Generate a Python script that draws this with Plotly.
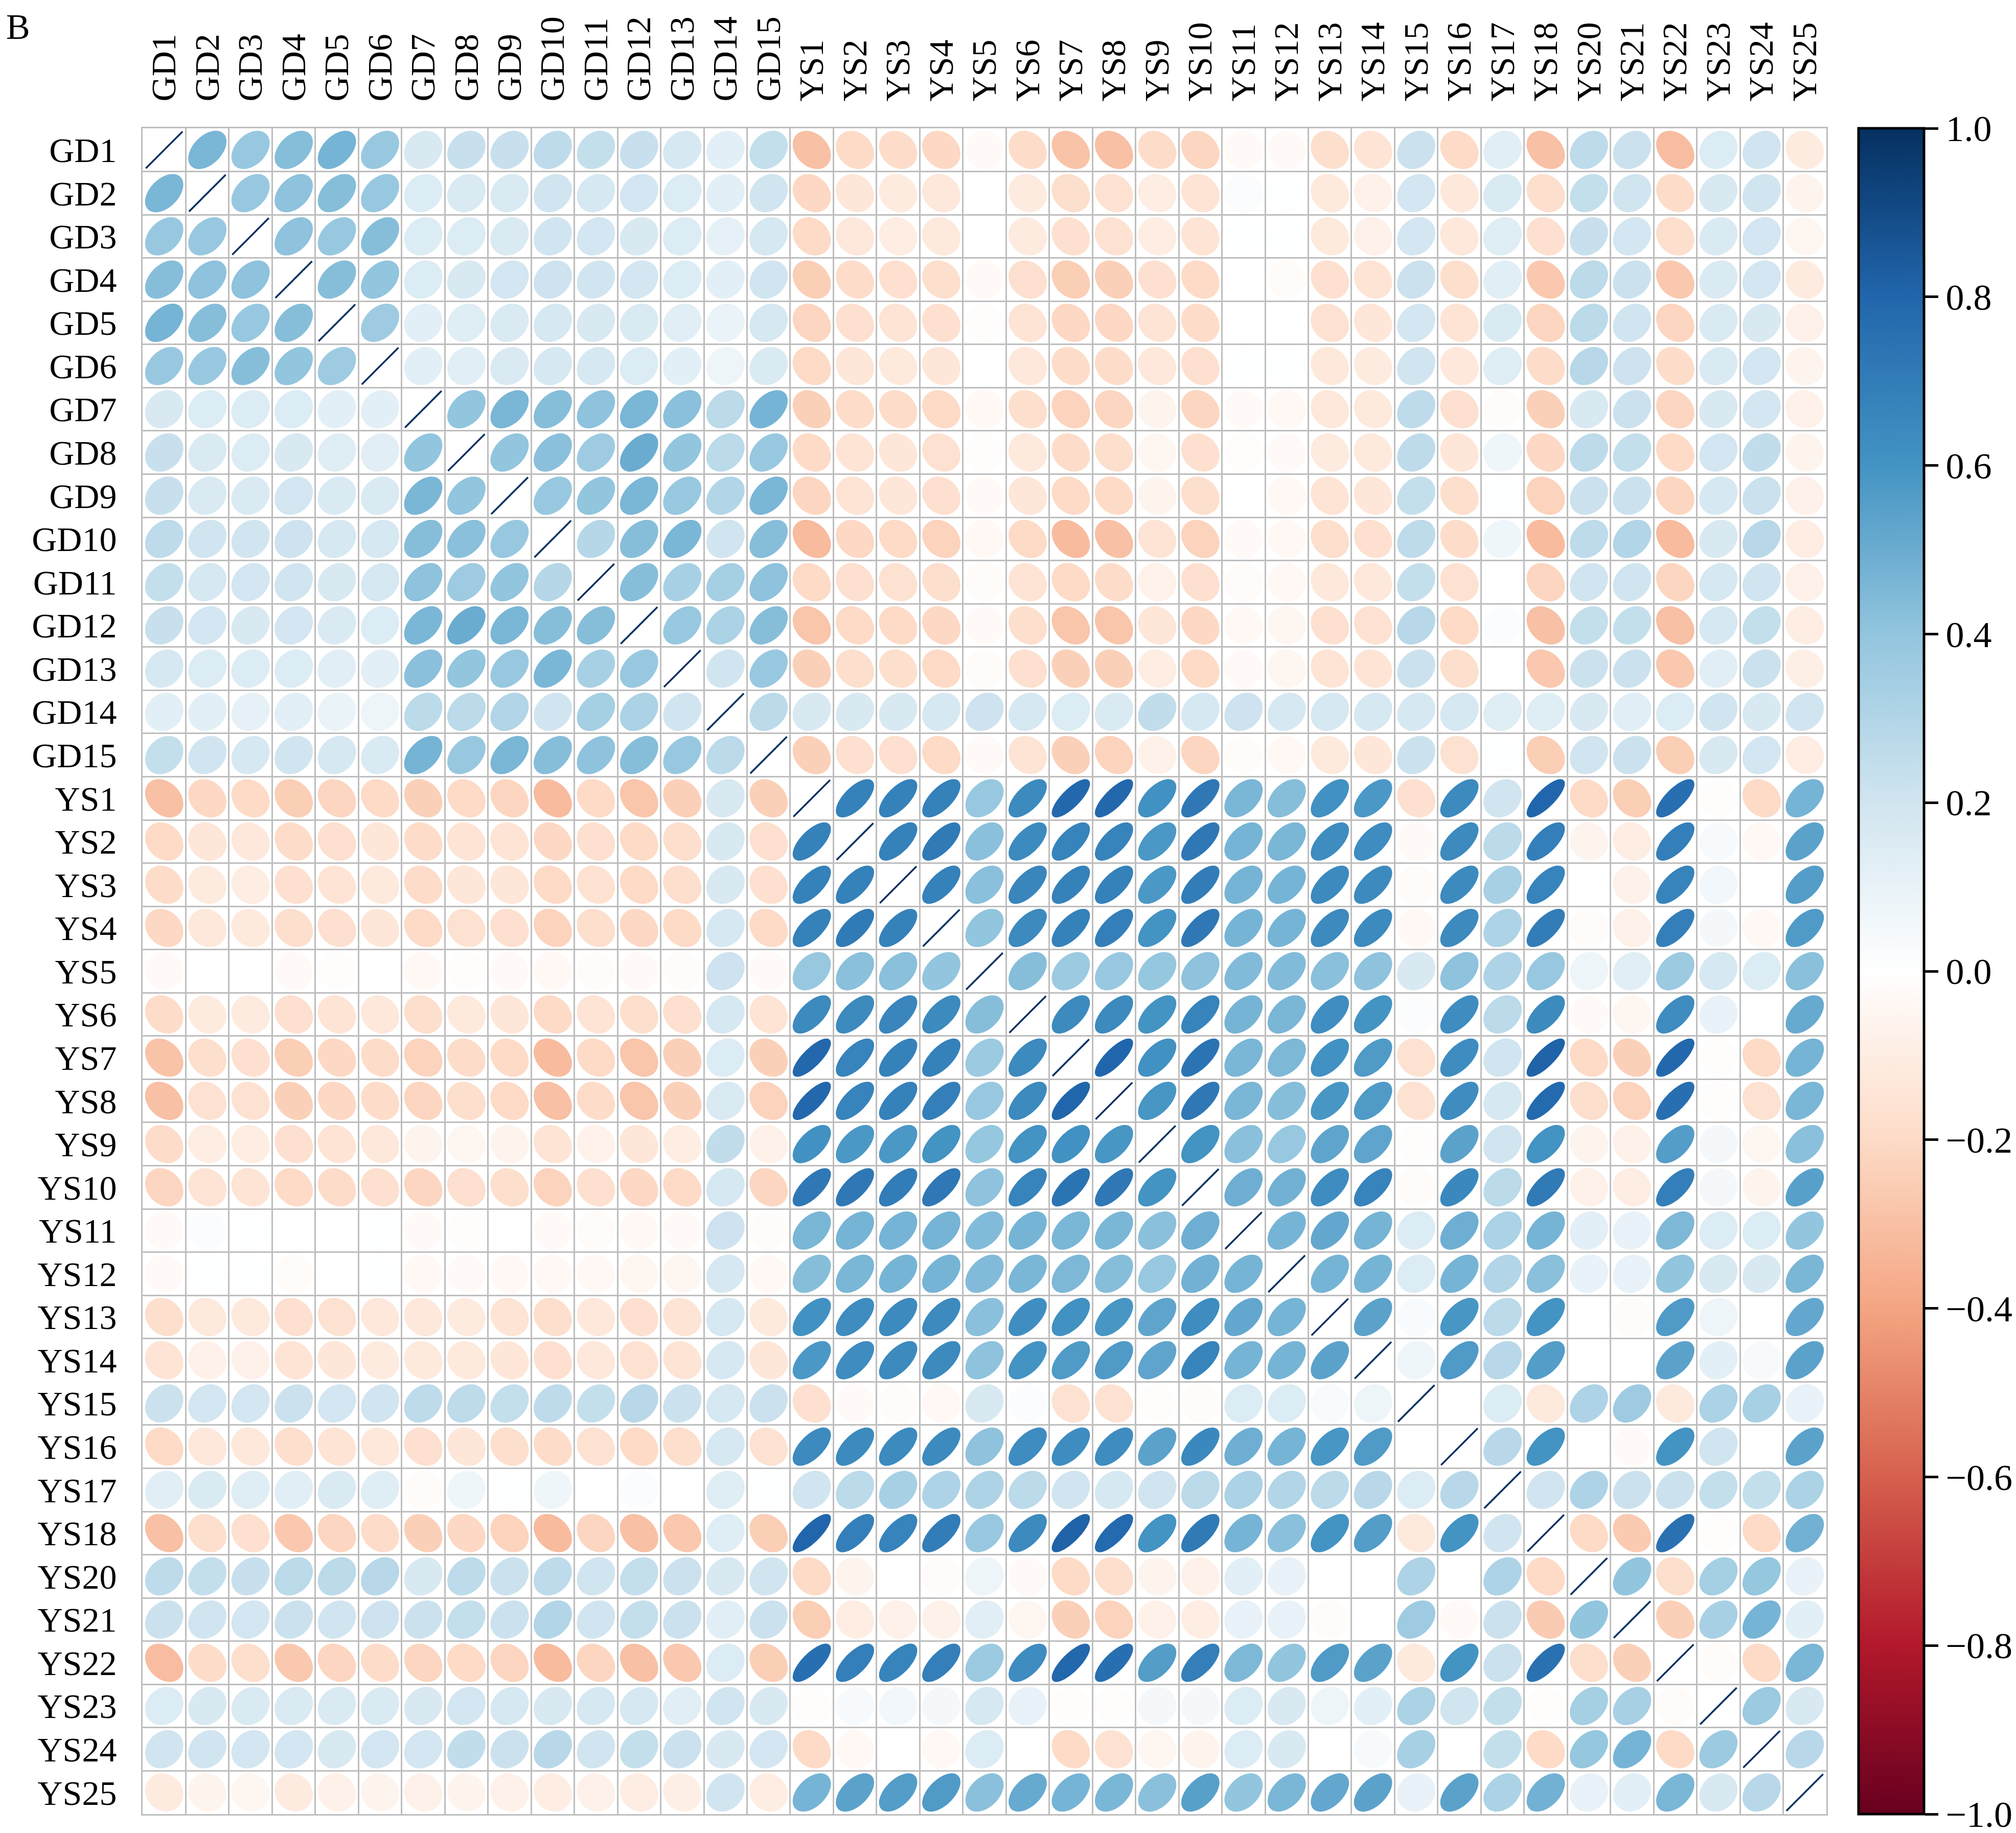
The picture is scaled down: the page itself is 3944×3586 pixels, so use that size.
import numpy as np
import plotly.graph_objects as go

labels = ["GD1", "GD2", "GD3", "GD4", "GD5", "GD6", "GD7", "GD8", "GD9", "GD10",
          "GD11", "GD12", "GD13", "GD14", "GD15",
          "YS1", "YS2", "YS3", "YS4", "YS5", "YS6", "YS7", "YS8", "YS9", "YS10",
          "YS11", "YS12", "YS13", "YS14", "YS15", "YS16", "YS17", "YS18",
          "YS20", "YS21", "YS22", "YS23", "YS24", "YS25"]

# upper triangle of the correlation matrix, one list per row (values right of the diagonal)
r_GD1 = [0.46, 0.38, 0.43, 0.47, 0.38, 0.17, 0.23, 0.23, 0.26, 0.24, 0.23, 0.18, 0.12, 0.24,
         -0.30, -0.20, -0.19, -0.21, -0.03, -0.19, -0.29, -0.30, -0.19, -0.22, -0.03,
         -0.03, -0.18, -0.15, 0.22, -0.20, 0.13, -0.30, 0.26, 0.22, -0.31, 0.15, 0.20, -0.11]
r_GD2 = [0.38, 0.41, 0.43, 0.38, 0.15, 0.16, 0.16, 0.20, 0.18, 0.19, 0.15, 0.12, 0.20,
         -0.21, -0.14, -0.11, -0.13, 0.00, -0.11, -0.18, -0.16, -0.10, -0.15, 0.02,
         0.01, -0.12, -0.08, 0.19, -0.13, 0.16, -0.18, 0.24, 0.20, -0.19, 0.17, 0.20, -0.06]
r_GD3 = [0.41, 0.38, 0.43, 0.15, 0.15, 0.16, 0.20, 0.19, 0.17, 0.15, 0.11, 0.18,
         -0.20, -0.13, -0.10, -0.12, 0.00, -0.11, -0.17, -0.16, -0.10, -0.15, 0.01,
         0.01, -0.12, -0.08, 0.19, -0.13, 0.14, -0.17, 0.23, 0.19, -0.18, 0.16, 0.19, -0.05]
r_GD4 = [0.43, 0.40, 0.15, 0.17, 0.19, 0.21, 0.20, 0.19, 0.15, 0.12, 0.20,
         -0.25, -0.19, -0.17, -0.18, -0.03, -0.17, -0.25, -0.24, -0.17, -0.20, 0.00,
         -0.02, -0.17, -0.15, 0.22, -0.18, 0.13, -0.27, 0.27, 0.22, -0.27, 0.16, 0.19, -0.11]
r_GD5 = [0.36, 0.12, 0.14, 0.16, 0.18, 0.17, 0.16, 0.13, 0.09, 0.18,
         -0.22, -0.17, -0.15, -0.17, -0.01, -0.15, -0.21, -0.21, -0.15, -0.19, 0.00,
         0.00, -0.16, -0.14, 0.19, -0.15, 0.16, -0.22, 0.27, 0.20, -0.22, 0.16, 0.17, -0.08]
r_GD6 = [0.12, 0.13, 0.16, 0.18, 0.18, 0.15, 0.12, 0.08, 0.16,
         -0.20, -0.14, -0.12, -0.14, 0.00, -0.13, -0.19, -0.19, -0.13, -0.17, 0.01,
         0.01, -0.13, -0.11, 0.20, -0.13, 0.14, -0.19, 0.28, 0.21, -0.19, 0.16, 0.19, -0.06]
r_GD7 = [0.40, 0.46, 0.43, 0.41, 0.46, 0.42, 0.27, 0.47,
         -0.24, -0.19, -0.19, -0.20, -0.04, -0.18, -0.23, -0.22, -0.06, -0.22, -0.03,
         -0.04, -0.13, -0.12, 0.26, -0.17, -0.02, -0.24, 0.17, 0.22, -0.22, 0.17, 0.19, -0.08]
r_GD8 = [0.40, 0.42, 0.36, 0.50, 0.40, 0.27, 0.38,
         -0.20, -0.15, -0.14, -0.16, -0.01, -0.12, -0.19, -0.18, -0.05, -0.17, -0.01,
         -0.03, -0.11, -0.12, 0.26, -0.14, 0.07, -0.21, 0.26, 0.24, -0.20, 0.19, 0.25, -0.06]
r_GD9 = [0.38, 0.40, 0.46, 0.38, 0.30, 0.46,
         -0.22, -0.15, -0.14, -0.17, -0.03, -0.14, -0.20, -0.20, -0.06, -0.18, 0.00,
         -0.04, -0.15, -0.14, 0.24, -0.18, 0.01, -0.23, 0.22, 0.22, -0.22, 0.18, 0.22, -0.08]
r_GD10 = [0.29, 0.43, 0.46, 0.20, 0.43,
          -0.32, -0.21, -0.20, -0.23, -0.04, -0.20, -0.32, -0.30, -0.15, -0.23, -0.03,
          -0.04, -0.18, -0.17, 0.26, -0.19, 0.07, -0.32, 0.26, 0.30, -0.32, 0.17, 0.28, -0.10]
r_GD11 = [0.43, 0.33, 0.34, 0.41,
          -0.20, -0.17, -0.16, -0.18, -0.02, -0.15, -0.20, -0.19, -0.07, -0.17, -0.02,
          -0.04, -0.13, -0.13, 0.24, -0.16, 0.00, -0.22, 0.20, 0.20, -0.22, 0.18, 0.20, -0.08]
r_GD12 = [0.38, 0.32, 0.43,
          -0.28, -0.20, -0.20, -0.21, -0.03, -0.18, -0.28, -0.28, -0.14, -0.21, -0.04,
          -0.05, -0.17, -0.16, 0.28, -0.20, 0.02, -0.30, 0.24, 0.24, -0.30, 0.18, 0.24, -0.10]
r_GD13 = [0.20, 0.38,
          -0.24, -0.18, -0.18, -0.20, -0.02, -0.17, -0.24, -0.24, -0.10, -0.20, -0.03,
          -0.05, -0.15, -0.15, 0.22, -0.18, 0.00, -0.27, 0.22, 0.22, -0.27, 0.13, 0.22, -0.09]
r_GD14 = [0.27,
          0.17, 0.17, 0.17, 0.18, 0.21, 0.18, 0.15, 0.16, 0.25, 0.18, 0.21,
          0.18, 0.18, 0.18, 0.18, 0.18, 0.14, 0.14, 0.17, 0.13, 0.15, 0.20, 0.17, 0.20]
r_GD15 = [-0.24, -0.17, -0.17, -0.20, -0.03, -0.15, -0.24, -0.23, -0.08, -0.22, -0.02,
          -0.04, -0.12, -0.14, 0.22, -0.16, 0.01, -0.25, 0.20, 0.22, -0.25, 0.17, 0.19, -0.10]
r_YS1 = [0.68, 0.68, 0.68, 0.38, 0.64, 0.79, 0.79, 0.61, 0.72, 0.46,
         0.43, 0.61, 0.58, -0.17, 0.64, 0.20, 0.80, -0.20, -0.25, 0.76, -0.01, -0.20, 0.47]
r_YS2 = [0.68, 0.71, 0.42, 0.64, 0.67, 0.67, 0.58, 0.72, 0.47,
         0.46, 0.63, 0.63, -0.03, 0.64, 0.27, 0.69, -0.06, -0.10, 0.69, 0.04, -0.04, 0.54]
r_YS3 = [0.68, 0.42, 0.66, 0.68, 0.68, 0.58, 0.70, 0.47,
         0.47, 0.64, 0.64, -0.02, 0.64, 0.33, 0.67, 0.00, -0.08, 0.67, 0.06, 0.00, 0.56]
r_YS4 = [0.40, 0.64, 0.68, 0.69, 0.60, 0.72, 0.47,
         0.47, 0.64, 0.64, -0.04, 0.64, 0.31, 0.70, -0.02, -0.08, 0.69, 0.05, -0.04, 0.57]
r_YS5 = [0.43, 0.37, 0.38, 0.39, 0.41, 0.44,
         0.44, 0.42, 0.41, 0.17, 0.41, 0.31, 0.38, 0.08, 0.13, 0.37, 0.18, 0.15, 0.42]
r_YS6 = [0.64, 0.64, 0.60, 0.67, 0.47,
         0.46, 0.62, 0.60, 0.02, 0.63, 0.27, 0.64, -0.03, -0.05, 0.63, 0.10, 0.00, 0.51]
r_YS7 = [0.80, 0.61, 0.74, 0.46,
         0.45, 0.61, 0.57, -0.16, 0.63, 0.20, 0.81, -0.20, -0.24, 0.79, -0.01, -0.20, 0.47]
r_YS8 = [0.59, 0.72, 0.46,
         0.43, 0.59, 0.57, -0.16, 0.63, 0.18, 0.78, -0.18, -0.23, 0.76, -0.01, -0.16, 0.46]
r_YS9 = [0.60, 0.42,
         0.38, 0.53, 0.53, -0.01, 0.54, 0.20, 0.60, -0.06, -0.08, 0.56, 0.05, -0.05, 0.42]
r_YS10 = [0.49,
          0.48, 0.63, 0.67, -0.02, 0.65, 0.27, 0.71, -0.08, -0.10, 0.69, 0.05, -0.06, 0.55]
r_YS11 = [0.47, 0.52, 0.47, 0.15, 0.49, 0.32, 0.47, 0.12, 0.10, 0.45, 0.15, 0.15, 0.40]
r_YS12 = [0.47, 0.47, 0.15, 0.47, 0.30, 0.42, 0.10, 0.10, 0.40, 0.17, 0.17, 0.46]
r_YS13 = [0.54, 0.03, 0.59, 0.27, 0.60, 0.00, -0.02, 0.57, 0.08, 0.00, 0.52]
r_YS14 = [0.08, 0.57, 0.28, 0.56, 0.00, 0.00, 0.54, 0.12, 0.04, 0.54]
r_YS15 = [0.00, 0.15, -0.12, 0.31, 0.36, -0.12, 0.32, 0.33, 0.10]
r_YS16 = [0.28, 0.60, 0.00, -0.03, 0.60, 0.20, 0.00, 0.54]
r_YS17 = [0.20, 0.31, 0.22, 0.22, 0.24, 0.24, 0.32]
r_YS18 = [-0.20, -0.26, 0.75, -0.01, -0.20, 0.48]
r_YS20 = [0.40, -0.18, 0.34, 0.39, 0.10]
r_YS21 = [-0.24, 0.33, 0.47, 0.12]
r_YS22 = [-0.02, -0.20, 0.46]
r_YS23 = [0.37, 0.17]
r_YS24 = [0.28]

upper_rows = [r_GD1, r_GD2, r_GD3, r_GD4, r_GD5, r_GD6, r_GD7, r_GD8, r_GD9, r_GD10,
              r_GD11, r_GD12, r_GD13, r_GD14, r_GD15,
              r_YS1, r_YS2, r_YS3, r_YS4, r_YS5, r_YS6, r_YS7, r_YS8, r_YS9, r_YS10,
              r_YS11, r_YS12, r_YS13, r_YS14, r_YS15, r_YS16, r_YS17, r_YS18,
              r_YS20, r_YS21, r_YS22, r_YS23, r_YS24]

cbar_vals = [-1.0, -0.8, -0.6, -0.4, -0.2, 0.0, 0.2, 0.4, 0.6, 0.8, 1.0]
cbar_text = ["\u22121.0", "\u22120.8", "\u22120.6", "\u22120.4", "\u22120.2",
             "0.0", "0.2", "0.4", "0.6", "0.8", "1.0"]

# corrplot RdBu palette
palette = ["#67001F", "#B2182B", "#D6604D", "#F4A582", "#FDDBC7", "#FFFFFF",
           "#D1E5F0", "#92C5DE", "#4393C3", "#2166AC", "#053061"]

n = len(labels)
corr = np.eye(n)
for i, row in enumerate(upper_rows):
    assert len(row) == n - 1 - i, (labels[i], len(row))
    for k, v in enumerate(row):
        j = i + 1 + k
        corr[i, j] = v
        corr[j, i] = v

pal_rgb = [tuple(int(h[p:p + 2], 16) for p in (1, 3, 5)) for h in palette]


def color_of(r):
    t = (r + 1) / 2 * (len(palette) - 1)
    lo = min(int(np.floor(t)), len(palette) - 2)
    f = t - lo
    c = [round(pal_rgb[lo][m] + (pal_rgb[lo + 1][m] - pal_rgb[lo][m]) * f) for m in range(3)]
    return "rgb(%d,%d,%d)" % tuple(c)


FONT = "Liberation Serif"
GRID = "#BEBEBE"

theta = np.linspace(0, 2 * np.pi, 100)
theta_half = np.linspace(0, np.pi, 50)
groups = {}
diag_x, diag_y = [], []
for i in range(n):
    for j in range(n):
        r = corr[i, j]
        a = np.arccos(np.clip(r, -1, 1))
        if r >= 0.999:
            # a perfect correlation collapses to a segment: draw it once, as a line
            dx = 0.425 * np.cos(theta_half + a / 2)
            dy = 0.425 * np.cos(theta_half - a / 2)
            diag_x.extend(list(j + 1 + dx) + [None])
            diag_y.extend(list(i + 1 - dy) + [None])
            continue
        dx = 0.425 * np.cos(theta + a / 2)
        dy = 0.425 * np.cos(theta - a / 2)
        xs, ys = groups.setdefault(color_of(r), ([], []))
        xs.extend(list(j + 1 + dx) + [None])
        ys.extend(list(i + 1 - dy) + [None])

fig = go.Figure()
for col, (xs, ys) in groups.items():
    fig.add_trace(go.Scatter(x=xs, y=ys, mode="lines", fill="toself", fillcolor=col,
                             line=dict(color=col, width=3, simplify=False),
                             hoverinfo="skip", showlegend=False))
fig.add_trace(go.Scatter(x=diag_x, y=diag_y, mode="lines",
                         line=dict(color=color_of(1.0), width=3.5, simplify=False),
                         hoverinfo="skip", showlegend=False))

cscale = [[k / (len(palette) - 1), c] for k, c in enumerate(palette)]
fig.add_trace(go.Scatter(
    x=[None], y=[None], mode="markers", hoverinfo="skip", showlegend=False,
    marker=dict(size=0, color=[0], cmin=-1, cmax=1, colorscale=cscale, showscale=True,
                colorbar=dict(x=1.0191, xanchor="left", xpad=0, y=0.5, yanchor="middle",
                              len=1.0, lenmode="fraction", ypad=0, thickness=128,
                              outlinewidth=5, outlinecolor="black",
                              tickmode="array", tickvals=cbar_vals, ticktext=cbar_text,
                              ticks="outside", ticklen=26, tickwidth=5, tickcolor="black",
                              tickfont=dict(family=FONT, size=72, color="black"))),
))

half = [k + 0.5 for k in range(n + 1)]
axis_common = dict(
    tickmode="array", tickvals=list(range(1, n + 1)), ticktext=labels,
    showgrid=False, zeroline=False, ticks="",
    showline=True, mirror=True, linecolor=GRID, linewidth=3,
    minor=dict(tickmode="array", tickvals=half, showgrid=True, gridcolor=GRID, gridwidth=3),
    tickfont=dict(family=FONT, size=68, color="black"),
)
fig.update_xaxes(range=[0.5, n + 0.5], side="top", tickangle=-90, ticklabelstandoff=36,
                 **axis_common)
fig.update_yaxes(range=[n + 0.5, 0.5], ticklabelstandoff=34, **axis_common)

fig.add_annotation(text="B", xref="paper", yref="paper", x=-268 / 3294, y=1 + 238 / 3298,
                   xanchor="left", yanchor="top", showarrow=False, borderpad=0,
                   font=dict(family=FONT, size=70, color="black"))

fig.update_layout(
    width=3944, height=3586,
    margin=dict(l=271, r=379, t=243, b=45, autoexpand=False),
    paper_bgcolor="white", plot_bgcolor="white",
    hovermode=False,
)

fig.write_html("out.html")
